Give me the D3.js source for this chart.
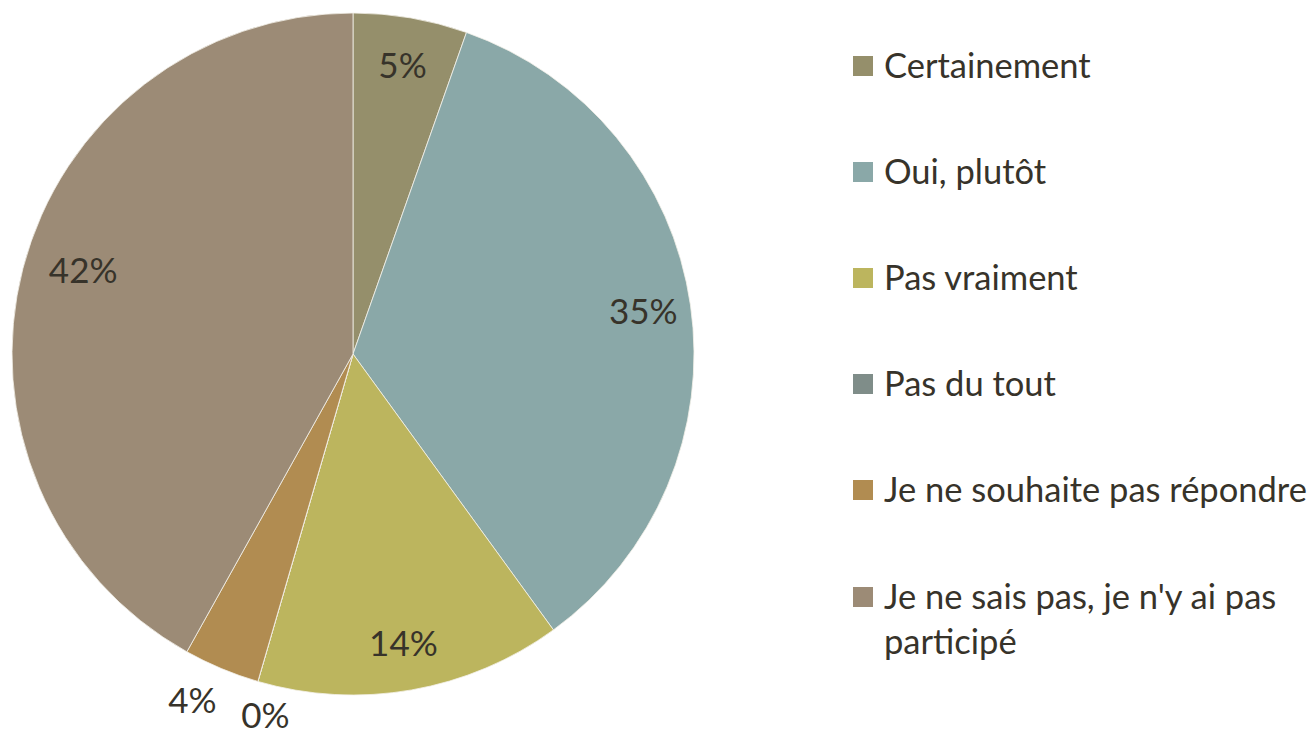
<!DOCTYPE html>
<html>
<head>
<meta charset="UTF-8">
<title>pie</title>
<script src="https://cdn.jsdelivr.net/npm/d3@7"></script>
<style>
  body { margin: 0; background: #fff; }
  text { font-family: Lato, "Open Sans", sans-serif; fill: #37332a; }
</style>
</head>
<body>
<svg id="chart" width="1312" height="734"></svg>
<script>
// categories and values (percent)
var categories = ["Certainement", "Oui, plutôt", "Pas vraiment", "Pas du tout",
                  "Je ne souhaite pas répondre", "Je ne sais pas, je n'y ai pas participé"];
var values = [5.4, 34.6, 14.5, 0, 3.6, 41.9];
var labels = ["5%", "35%", "14%", "0%", "4%", "42%"];
var colors = ["#958f6b", "#8aa8a8", "#bcb55e", "#7f8d89", "#b18c51", "#9c8b76"];

var data = categories.map(function(c, i) { return {name: c, value: values[i], label: labels[i]} });

var svg = d3.select("#chart");
var cx = 353, cy = 354, R = 341;

var color = d3.scaleOrdinal().domain(categories).range(colors);
var pie = d3.pie().sort(null).value(function(d) { return d.value });
var arc = d3.arc().innerRadius(0).outerRadius(R);
var arcs = pie(data);

var g = svg.append("g").attr("transform", "translate(" + cx + "," + cy + ")");

g.selectAll("path.slice")
  .data(arcs)
  .enter()
  .append("path")
  .attr("class", "slice")
  .attr("d", arc)
  .attr("fill", function(d) { return color(d.data.name) })
  .attr("stroke", "#f4f1ea")
  .attr("stroke-width", 0.8);

// labels: inside for big slices, outside for small ones
var inner = d3.arc().innerRadius(R * 0.86).outerRadius(R * 0.86);
var outer = d3.arc().innerRadius(R * 1.1).outerRadius(R * 1.1);

g.selectAll("text.lbl")
  .data(arcs)
  .enter()
  .append("text")
  .attr("class", "lbl")
  .attr("transform", function(d) {
    var p = d.data.value < 5 ? outer.centroid(d) : inner.centroid(d);
    if (d.data.value < 5) {
      // nudge so the two small labels don't collide
      p[0] += d.data.value === 0 ? 17 : -16;
      p[1] += d.data.value === 0 ? 1 : 0;
    }
    if (d.data.value > 40) { p[0] += 14; p[1] -= 10; }
    return "translate(" + p[0] + "," + p[1] + ")";
  })
  .attr("text-anchor", "middle")
  .attr("dy", "0.36em")
  .style("font-size", "35px")
  .text(function(d) { return d.data.label });

// legend
var legY = [66, 172, 278, 384, 490, 597];
var leg = svg.append("g").attr("transform", "translate(853,0)");
var items = leg.selectAll("g.item")
  .data(data)
  .enter()
  .append("g")
  .attr("class", "item")
  .attr("transform", function(d, i) { return "translate(0," + legY[i] + ")" });

items.append("rect")
  .attr("x", 0).attr("y", -10)
  .attr("width", 20).attr("height", 20)
  .attr("fill", function(d) { return color(d.name) });

items.append("text")
  .attr("x", 31)
  .attr("dy", "0.36em")
  .style("font-size", "34.5px")
  .each(function(d) {
    var t = d3.select(this);
    if (d.name.indexOf("participé") > 0) {
      t.append("tspan").attr("x", 31).text("Je ne sais pas, je n'y ai pas");
      t.append("tspan").attr("x", 31).attr("dy", 45).text("participé");
    } else {
      t.text(d.name);
    }
  });
</script>
</body>
</html>
